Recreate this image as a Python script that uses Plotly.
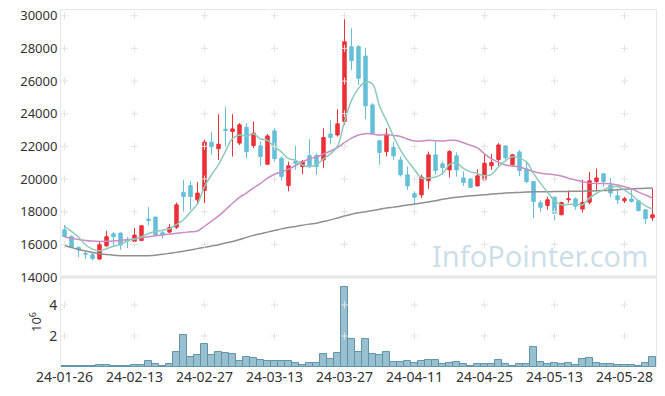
import plotly.graph_objects as go
from plotly.subplots import make_subplots

dates = ["24-01-26","24-01-29","24-01-30","24-01-31","24-02-01","24-02-02","24-02-05","24-02-06","24-02-07","24-02-08",
         "24-02-13","24-02-14","24-02-15","24-02-16","24-02-19","24-02-20","24-02-21","24-02-22","24-02-23","24-02-26",
         "24-02-27","24-02-28","24-02-29","24-03-04","24-03-05","24-03-06","24-03-07","24-03-08","24-03-11","24-03-12",
         "24-03-13","24-03-14","24-03-15","24-03-18","24-03-19","24-03-20","24-03-21","24-03-22","24-03-25","24-03-26",
         "24-03-27","24-03-28","24-03-29","24-04-01","24-04-02","24-04-03","24-04-04","24-04-05","24-04-08","24-04-09",
         "24-04-11","24-04-12","24-04-15","24-04-16","24-04-17","24-04-18","24-04-19","24-04-22","24-04-23","24-04-24",
         "24-04-25","24-04-26","24-04-29","24-04-30","24-05-02","24-05-03","24-05-07","24-05-08","24-05-09","24-05-10",
         "24-05-13","24-05-14","24-05-16","24-05-17","24-05-20","24-05-21","24-05-22","24-05-23","24-05-24","24-05-27",
         "24-05-28","24-05-29","24-05-30","24-05-31","24-06-03"]

open_ = [16890,16480,15810,15450,15360,15100,15910,16650,16690,16300,
         16180,16240,17550,17670,16710,16750,17050,19170,19600,18730,
         19300,22260,21850,23050,22910,22200,23170,22050,22030,20910,
         22950,21280,19600,21070,20760,21440,21440,21170,22760,22700,
         23520,28100,28100,27530,24540,22340,21680,21930,21170,20260,
         19100,19030,19890,21480,20930,20560,21420,20070,20010,19580,
         19950,20810,21200,22030,20870,21660,20620,19850,18550,18380,
         18890,17810,18730,18780,18160,18580,19850,20320,19620,18970,
         18670,18780,18670,18120,17630]
high = [17200,16540,15870,15590,15530,16160,16830,16750,16730,16450,
        17000,17150,18280,17700,16850,17240,18560,19950,19890,19810,
        22400,22870,23970,24430,23970,23420,23420,23520,22290,22750,
        23110,21380,21070,22030,21170,22440,21580,23110,23620,24280,
        29900,29230,28210,28040,24640,22400,23110,22290,21380,20770,
        19240,20260,21680,22290,21070,21780,21630,20470,20040,20590,
        21510,21540,22200,22050,21540,21790,21070,19850,18700,18930,
        18930,18610,19310,18880,19950,20430,20640,20380,20060,19340,
        18910,19440,18700,18150,19440]
low = [16450,15770,15220,15100,15020,15060,15840,15870,15670,15770,
       16160,16200,17160,16550,16360,16690,16950,18010,18120,18470,
       18530,21480,21170,22000,21380,22090,21280,21890,20800,20870,
       21070,19910,19240,20560,20300,20670,20260,20670,22130,22600,
       23320,26680,25760,23660,22700,20870,21380,21170,20150,19340,
       18420,18830,19400,20260,20260,20100,20150,19580,19460,19550,
       19860,20560,20810,21170,20780,20170,19750,17610,17990,18120,
       17460,17780,18560,18120,17950,18450,19290,19520,18890,18480,
       18530,18560,18010,17260,17440]
close = [16480,15840,15670,15400,15140,15980,16470,16470,15960,16200,
         16570,17140,17460,16590,16590,17030,18420,18930,18930,19140,
         22260,21990,22130,22970,23070,23320,21680,22810,21380,22640,
         21250,20150,20810,20970,21070,20810,20760,22540,22540,23380,
         28410,27250,26170,24480,22810,21620,22750,21420,20260,19580,
         18890,20120,21480,20520,20700,21680,20560,19790,19490,20200,
         20970,21010,22090,21300,21480,20520,19850,18620,18270,18730,
         17900,18560,18790,18340,18560,19890,20070,19850,19140,18730,
         18790,18620,18070,17580,17810]

ma5 = [17100,16790,16450,15980,15710,15610,15730,15890,16000,16220,
       16330,16470,16670,16790,16870,16960,17220,17510,17980,18490,
       19540,20250,20890,21700,22480,22700,22630,22770,22450,22370,
       21950,21650,21250,21160,20850,20760,20880,21230,21540,22010,
       23530,24820,25550,25940,25820,24470,23570,22620,21770,21130,
       20580,20050,20070,20120,20340,20900,20990,20650,20440,20340,
       20200,20290,20750,21110,21370,21280,21050,20350,19750,19200,
       18670,18420,18450,18460,18430,18830,19130,19340,19500,19540,
       19320,19030,18670,18360,18170]
ma20 = [16450,16380,16300,16240,16200,16180,16190,16210,16240,16300,
        16340,16400,16470,16530,16580,16630,16680,16730,16770,16820,
        17110,17420,17740,18120,18520,18880,19140,19460,19730,20050,
        20290,20440,20610,20820,21050,21240,21350,21530,21720,21930,
        22230,22500,22700,22780,22760,22680,22730,22660,22610,22450,
        22330,22330,22370,22340,22330,22370,22360,22220,22070,21910,
        21540,21230,21020,20860,20800,20740,20600,20460,20360,20310,
        20260,20190,20050,19940,19840,19750,19720,19730,19710,19630,
        19530,19410,19200,19020,18830]
ma60 = [15930,15810,15680,15590,15500,15430,15380,15340,15310,15300,
        15300,15300,15310,15340,15390,15450,15510,15580,15650,15740,
        15820,15900,15980,16080,16180,16300,16430,16550,16650,16750,
        16850,16950,17030,17100,17170,17240,17300,17400,17500,17620,
        17740,17850,17940,18000,18080,18150,18220,18280,18340,18410,
        18470,18530,18600,18670,18760,18830,18880,18930,18970,19010,
        19040,19080,19110,19140,19160,19180,19200,19215,19220,19225,
        19230,19235,19240,19250,19260,19270,19280,19295,19320,19350,
        19380,19400,19420,19435,19445]
volume_m = [0.04,0.04,0.04,0.04,0.04,0.13,0.13,0.04,0.04,0.04,
            0.10,0.10,0.36,0.17,0.04,0.17,0.94,2.09,0.62,0.75,
            1.51,0.75,0.94,0.87,0.81,0.36,0.62,0.55,0.45,0.36,
            0.36,0.36,0.36,0.23,0.10,0.23,0.23,0.81,0.49,0.87,
            5.18,1.83,0.94,1.83,0.81,0.75,0.94,0.30,0.30,0.36,
            0.23,0.36,0.43,0.43,0.17,0.23,0.30,0.17,0.04,0.17,
            0.17,0.17,0.43,0.17,0.04,0.17,0.17,1.26,0.30,0.17,
            0.23,0.17,0.23,0.10,0.49,0.55,0.23,0.17,0.17,0.10,
            0.10,0.10,0.04,0.23,0.62]

price_ticks = [14000, 16000, 18000, 20000, 22000, 24000, 26000, 28000, 30000]
vol_ticks = [2, 4]
x_ticks = dates[::10]

UP = "#ec3038"
DOWN = "#66bfd9"
FONT = "Noto Sans"

fig = make_subplots(rows=2, cols=1, shared_xaxes=True, vertical_spacing=0,
                    row_heights=[0.748, 0.252])

fig.add_trace(go.Candlestick(x=dates, open=open_, high=high, low=low, close=close,
                             increasing=dict(line=dict(color=UP, width=1), fillcolor=UP),
                             decreasing=dict(line=dict(color=DOWN, width=1), fillcolor=DOWN),
                             showlegend=False, name="price"), row=1, col=1)

fig.add_trace(go.Scatter(x=dates, y=ma60, mode="lines", line=dict(color="#8f8f8f", width=1.5, shape="spline"),
                         showlegend=False, name="MA60"), row=1, col=1)
fig.add_trace(go.Scatter(x=dates, y=ma20, mode="lines", line=dict(color="#c98cc3", width=1.5, shape="spline"),
                         showlegend=False, name="MA20"), row=1, col=1)
fig.add_trace(go.Scatter(x=dates, y=ma5, mode="lines", line=dict(color="#8ccabb", width=1.5, shape="spline"),
                         showlegend=False, name="MA5"), row=1, col=1)

fig.add_trace(go.Bar(x=dates, y=volume_m, marker=dict(color="#99c0d0", line=dict(color="#5f93a9", width=1)),
                     showlegend=False, name="volume"), row=2, col=1)

# faint grid crosses at tick intersections
cx, cy = [], []
for xv in x_ticks:
    for yv in price_ticks[1:]:
        cx.append(xv); cy.append(yv)
fig.add_trace(go.Scatter(x=cx, y=cy, mode="markers", hoverinfo="skip", showlegend=False,
                         marker=dict(symbol="cross-thin", size=5, line=dict(width=1, color="#e3e3e3"))),
              row=1, col=1)
vx, vy = [], []
for xv in x_ticks:
    for yv in vol_ticks:
        vx.append(xv); vy.append(yv)
fig.add_trace(go.Scatter(x=vx, y=vy, mode="markers", hoverinfo="skip", showlegend=False,
                         marker=dict(symbol="cross-thin", size=5, line=dict(width=1, color="#e3e3e3"))),
              row=2, col=1)

# the page body adds an 8px offset; the figure is sized so the plot lands where the reference has it
fig.update_layout(
    width=657, height=388,
    margin=dict(l=53, r=9, t=2, b=29, autoexpand=False),
    paper_bgcolor="white", plot_bgcolor="white",
    font=dict(family=FONT, size=13, color="#333"),
    bargap=0,
    xaxis_rangeslider_visible=False,
    annotations=[dict(text="InfoPointer.com", xref="x domain", yref="y domain", x=0.99, y=0.0,
                      xanchor="right", yanchor="bottom", showarrow=False,
                      font=dict(family=FONT, size=29, color="rgba(160,195,214,0.55)"))]
)

fig.update_xaxes(type="category", categoryorder="array", categoryarray=dates, automargin=False,
                 range=[-0.5, len(dates) - 0.5], showgrid=False, zeroline=False,
                 ticklabeloverflow="allow")
fig.update_xaxes(row=1, col=1, showline=True, mirror=True, linecolor="#e6e6e6", linewidth=1,
                 showticklabels=False, ticks="")
fig.update_xaxes(row=2, col=1, showline=False, tickvals=x_ticks, ticktext=x_ticks, ticks="",
                 tickangle=0, tickfont=dict(size=14, color="#333"))

fig.update_yaxes(row=1, col=1, range=[14000, 30350], tickvals=price_ticks, automargin=False,
                 ticktext=[str(v) for v in price_ticks], ticklabeloverflow="allow",
                 showgrid=False, zeroline=False, showline=True, mirror=True,
                 linecolor="#e6e6e6", linewidth=1, ticks="", tickfont=dict(size=13, color="#333"))
fig.update_yaxes(row=2, col=1, range=[0, 5.8], tickvals=vol_ticks, ticktext=[str(v) for v in vol_ticks],
                 showgrid=False, zeroline=False, automargin=False, ticklabeloverflow="allow",
                 showline=True, mirror=True, linecolor="#e6e6e6", linewidth=1, ticks="",
                 title=dict(text="10<sup>6</sup>", standoff=4, font=dict(size=13, color="#333")),
                 tickfont=dict(size=14, color="#333"))

# divider between panels
fig.add_shape(type="line", xref="paper", yref="paper", x0=0, x1=1, y0=0.252, y1=0.252,
              line=dict(color="#e6e6e6", width=3))

fig.write_html("out.html")
